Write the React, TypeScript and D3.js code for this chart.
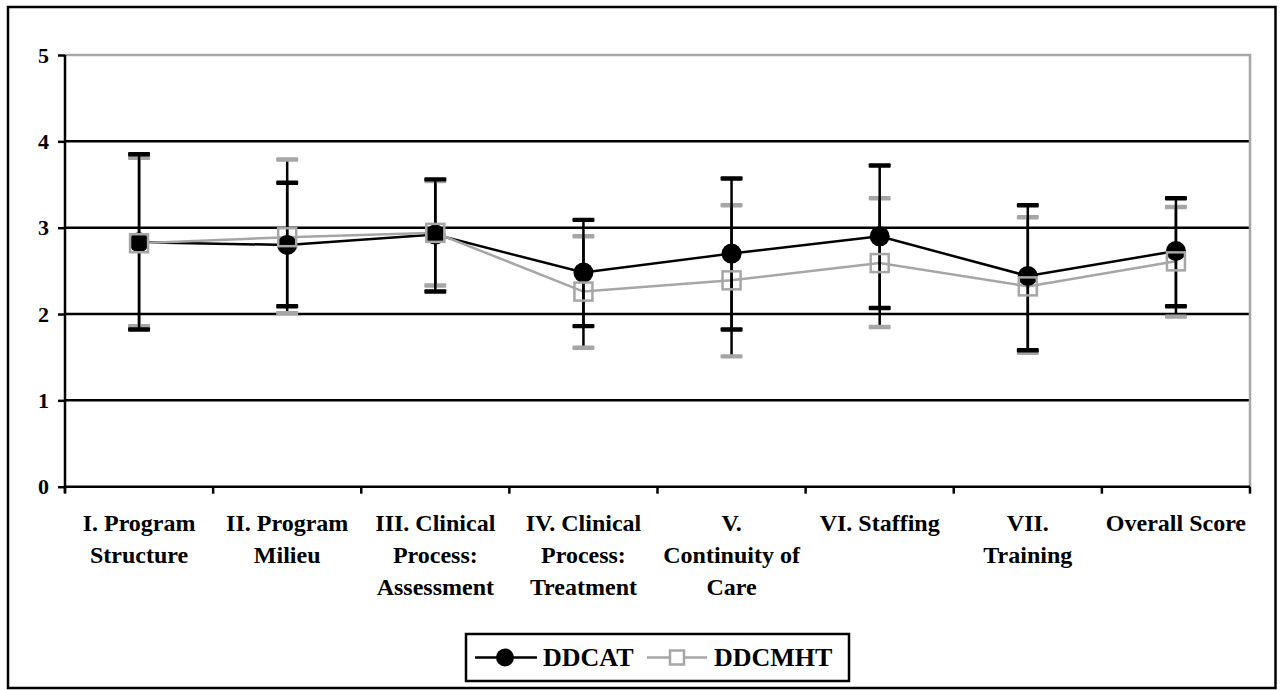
import { useEffect, useRef } from 'react';
import * as d3 from 'd3';

const categories = [
  ['I. Program', 'Structure'],
  ['II. Program', 'Milieu'],
  ['III. Clinical', 'Process:', 'Assessment'],
  ['IV. Clinical', 'Process:', 'Treatment'],
  ['V.', 'Continuity of', 'Care'],
  ['VI. Staffing'],
  ['VII.', 'Training'],
  ['Overall Score'],
];
const ddcatMean = [2.83, 2.8, 2.92, 2.48, 2.7, 2.9, 2.44, 2.73];
const ddcatHigh = [3.85, 3.52, 3.56, 3.09, 3.57, 3.72, 3.26, 3.34];
const ddcatLow = [1.82, 2.09, 2.26, 1.86, 1.82, 2.07, 1.58, 2.09];
const ddcmhtMean = [2.82, 2.89, 2.94, 2.26, 2.39, 2.59, 2.32, 2.61];
const ddcmhtHigh = [3.81, 3.79, 3.54, 2.9, 3.26, 3.34, 3.12, 3.24];
const ddcmhtLow = [1.86, 2.01, 2.33, 1.61, 1.51, 1.85, 1.55, 1.97];
const yTicks = [0, 1, 2, 3, 4, 5];
const seriesNames = ['DDCAT', 'DDCMHT'];

const FONT = "'Liberation Serif', 'DejaVu Serif', 'Times New Roman', Times, serif";
const GRAY = '#a6a6a6';

export default function App() {
  const ref = useRef<SVGSVGElement>(null);

  useEffect(() => {
    const svg = d3.select(ref.current);
    svg.selectAll('*').remove();

    const left = 65, right = 1250, top = 55, bottom = 486.7;
    const idx = categories.map((_, i) => i);
    const x = d3.scaleBand<number>().domain(idx).range([left, right]).padding(0);
    const cx = (i: number) => (x(i) as number) + x.bandwidth() / 2;
    const y = d3.scaleLinear().domain([0, 5]).range([bottom, top]);

    // outer frame
    svg.append('rect')
      .attr('x', 8).attr('y', 7).attr('width', 1267.5).attr('height', 681)
      .attr('fill', 'white').attr('stroke', 'black').attr('stroke-width', 2.5);

    // gridlines
    svg.append('g').selectAll('line')
      .data(yTicks.filter(t => t > 0 && t < 5))
      .join('line')
      .attr('x1', left).attr('x2', right)
      .attr('y1', d => y(d)).attr('y2', d => y(d))
      .attr('stroke', 'black').attr('stroke-width', 2.5);

    // plot border top/right (gray)
    svg.append('path')
      .attr('d', `M${left},${y(5)}H${right}V${bottom}`)
      .attr('fill', 'none').attr('stroke', GRAY).attr('stroke-width', 2.5);

    // y axis
    const yAxis = svg.append('g')
      .attr('transform', `translate(${left},0)`)
      .call(d3.axisLeft(y).tickValues(yTicks).tickSize(7).tickPadding(9).tickFormat(d3.format('d')));
    yAxis.select('.domain').attr('stroke', 'black').attr('stroke-width', 2.5)
      .attr('d', `M0,${y(5)}V${bottom + 6}`);
    yAxis.selectAll('.tick line').attr('stroke', 'black').attr('stroke-width', 2.5);
    yAxis.selectAll('.tick text')
      .style('font-family', FONT).attr('font-size', 22).attr('font-weight', 'bold').attr('fill', 'black');

    // x axis
    svg.append('line')
      .attr('x1', left).attr('x2', right).attr('y1', bottom).attr('y2', bottom)
      .attr('stroke', 'black').attr('stroke-width', 2.5);
    svg.append('g').selectAll('line')
      .data(d3.range(categories.length + 1))
      .join('line')
      .attr('x1', d => left + x.step() * d).attr('x2', d => left + x.step() * d)
      .attr('y1', bottom).attr('y2', bottom + 7)
      .attr('stroke', 'black').attr('stroke-width', 2.5);

    const labels = svg.append('g')
      .style('font-family', FONT).attr('font-size', 24).attr('font-weight', 'bold')
      .attr('text-anchor', 'middle');
    categories.forEach((lines, i) => {
      lines.forEach((t, j) => {
        labels.append('text')
          .attr('x', cx(i)).attr('y', 531 + j * 32)
          .text(t);
      });
    });

    // series lines
    const line = d3.line<number>().x((_, i) => cx(i)).y(d => y(d));
    svg.append('path').datum(ddcatMean).attr('d', line)
      .attr('fill', 'none').attr('stroke', 'black').attr('stroke-width', 2.5);
    svg.append('path').datum(ddcmhtMean).attr('d', line)
      .attr('fill', 'none').attr('stroke', GRAY).attr('stroke-width', 2.5);

    // error bars
    const bars = (hi: number[], lo: number[], color: string) => {
      const g = svg.append('g');
      g.selectAll('line').data(idx).join('line')
        .attr('x1', i => cx(i)).attr('x2', i => cx(i))
        .attr('y1', i => y(hi[i])).attr('y2', i => y(lo[i]))
        .attr('stroke', 'black').attr('stroke-width', 2.5);
      const caps = idx.flatMap(i => [[i, hi[i]], [i, lo[i]]]);
      g.selectAll('rect').data(caps).join('rect')
        .attr('x', d => cx(d[0]) - 11).attr('y', d => y(d[1]) - 2.2)
        .attr('width', 22).attr('height', 4.4).attr('rx', 1)
        .attr('fill', color);
    };
    bars(ddcmhtHigh, ddcmhtLow, GRAY);
    bars(ddcatHigh, ddcatLow, 'black');

    // markers
    svg.append('g').selectAll('circle').data(ddcatMean).join('circle')
      .attr('cx', (_, i) => cx(i)).attr('cy', d => y(d)).attr('r', 10)
      .attr('fill', 'black');
    svg.append('g').selectAll('rect').data(ddcmhtMean).join('rect')
      .attr('x', (_, i) => cx(i) - 9).attr('y', d => y(d) - 9)
      .attr('width', 18).attr('height', 18)
      .attr('fill', 'none').attr('stroke', GRAY).attr('stroke-width', 2.5);

    // legend
    const lg = svg.append('g');
    lg.append('rect').attr('x', 466).attr('y', 634).attr('width', 383).attr('height', 47)
      .attr('fill', 'white').attr('stroke', 'black').attr('stroke-width', 2.5);
    const ly = 657.5;
    lg.append('line').attr('x1', 475).attr('x2', 537).attr('y1', ly).attr('y2', ly)
      .attr('stroke', 'black').attr('stroke-width', 2.5);
    lg.append('circle').attr('cx', 505).attr('cy', ly).attr('r', 9).attr('fill', 'black');
    lg.append('line').attr('x1', 647).attr('x2', 707).attr('y1', ly).attr('y2', ly)
      .attr('stroke', GRAY).attr('stroke-width', 2.5);
    lg.append('rect').attr('x', 670).attr('y', ly - 7).attr('width', 14).attr('height', 14)
      .attr('fill', 'white').attr('stroke', GRAY).attr('stroke-width', 2.5);
    lg.selectAll('text').data(seriesNames).join('text')
      .attr('x', (_, i) => (i === 0 ? 543 : 714)).attr('y', ly + 8.5)
      .style('font-family', FONT).attr('font-size', 26).attr('font-weight', 'bold')
      .text(d => d);
  }, []);

  return (
    <svg ref={ref} width={1283} height={690}
      style={{ position: 'absolute', left: 0, top: 0, background: 'white' }} />
  );
}
